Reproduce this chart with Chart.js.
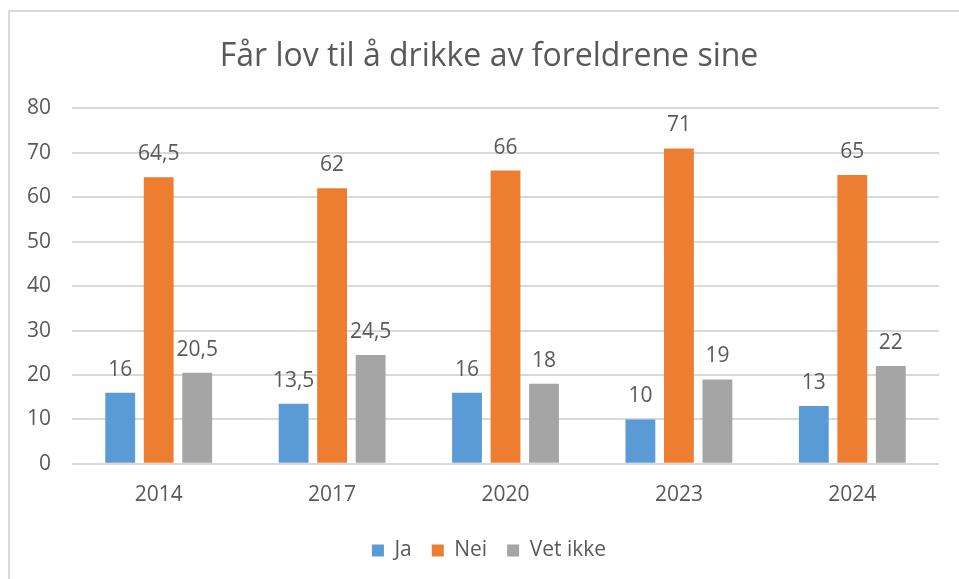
<!DOCTYPE html>
<html>
<head>
<meta charset="utf-8">
<script src="https://cdn.jsdelivr.net/npm/chart.js@4.4.1/dist/chart.umd.min.js"></script>
<style>
  html, body { margin: 0; padding: 0; background: #fff; overflow: hidden; }
  #frame {
    position: absolute; left: 8px; top: 10px; width: 1000px; height: 700px;
    border: 2px solid #d9d9d9; box-sizing: border-box;
  }
  #wrap { position: absolute; left: 0; top: 0; width: 959px; height: 579px; }
</style>
</head>
<body>
<div id="frame"></div>
<div id="wrap"><canvas id="chart"></canvas></div>
<script>
// Data
const years = ['2014', '2017', '2020', '2023', '2024'];
const ja = [16, 13.5, 16, 10, 13];
const nei = [64.5, 62, 66, 71, 65];
const vetIkke = [20.5, 24.5, 18, 19, 22];
const yTicks = [0, 10, 20, 30, 40, 50, 60, 70, 80];

const textColor = '#595959';
const fontFamily = '"Open Sans", "Liberation Sans", sans-serif';

// Draw the value above each bar (comma as decimal mark)
const valueLabels = {
    id: 'valueLabels',
    afterDatasetsDraw(chart) {
        const ctx = chart.ctx;
        ctx.save();
        ctx.font = '21px ' + fontFamily;
        ctx.fillStyle = textColor;
        ctx.textAlign = 'center';
        ctx.textBaseline = 'alphabetic';
        chart.data.datasets.forEach((ds, i) => {
            const meta = chart.getDatasetMeta(i);
            meta.data.forEach((bar, j) => {
                const txt = String(ds.data[j]).replace('.', ',');
                ctx.fillText(txt, bar.x, bar.y - 17);
            });
        });
        ctx.restore();
    }
};

new Chart(document.getElementById('chart'), {
    type: 'bar',
    data: {
        labels: years,
        datasets: [
            { label: 'Ja', data: ja, backgroundColor: '#5B9BD5' },
            { label: 'Nei', data: nei, backgroundColor: '#ED7D31' },
            { label: 'Vet ikke', data: vetIkke, backgroundColor: '#A5A5A5' }
        ]
    },
    options: {
        responsive: true,
        maintainAspectRatio: false,
        animation: false,
        datasets: {
            bar: { categoryPercentage: 0.666, barPercentage: 0.775 }
        },
        layout: { padding: { left: 22, right: 3, top: 10, bottom: 8 } },
        plugins: {
            title: {
                display: true,
                text: 'Får lov til å drikke av foreldrene sine',
                color: textColor,
                font: { family: fontFamily, size: 32, weight: 'normal' },
                padding: { top: 28, bottom: 32 }
            },
            legend: {
                position: 'bottom',
                labels: {
                    color: textColor,
                    font: { family: fontFamily, size: 21 },
                    boxWidth: 12,
                    boxHeight: 12,
                    padding: 20
                }
            },
            tooltip: { enabled: false }
        },
        scales: {
            x: {
                grid: { display: false, drawTicks: false },
                border: { display: false },
                ticks: { color: textColor, font: { family: fontFamily, size: 21 }, padding: 19 },
                afterFit(scale) { scale.height -= 7; }
            },
            y: {
                min: 0,
                max: 80,
                grid: { color: '#d9d9d9', lineWidth: 2, drawTicks: false },
                border: { display: false },
                afterBuildTicks(scale) { scale.ticks = yTicks.map(v => ({ value: v })); },
                afterFit(scale) { scale.width -= 16; },
                ticks: { color: textColor, font: { family: fontFamily, size: 21 }, padding: 21 }
            },
            // empty spacer on the right so the title and legend sit centred in the frame
            yRight: {
                position: 'right',
                min: 0,
                max: 80,
                grid: { display: false, drawTicks: false },
                border: { display: false },
                ticks: { display: false },
                afterFit(scale) { scale.width = 17; }
            }
        }
    },
    plugins: [valueLabels]
});
</script>
</body>
</html>
